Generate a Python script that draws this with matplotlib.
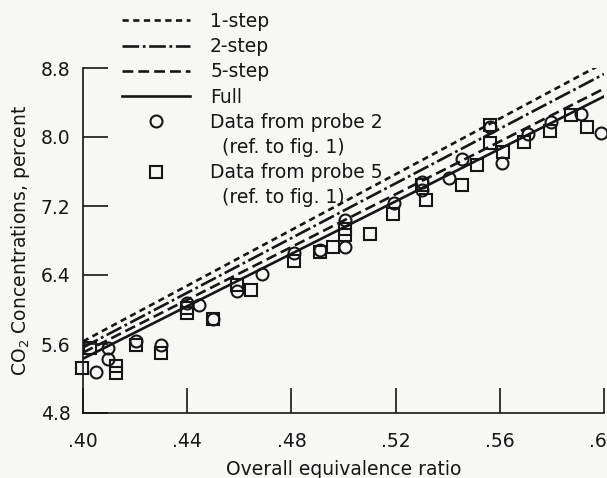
import matplotlib
matplotlib.use("Agg")
import matplotlib.pyplot as plt
from matplotlib.lines import Line2D

plt.rcParams['font.family'] = ['DejaVu Sans']
plt.rcParams['mathtext.fontset'] = 'dejavusans'
plt.rcParams['lines.scale_dashes'] = False

# ---- data ----
line_x = [0.40, 0.60]
one_step = [5.63, 8.86]
two_step = [5.56, 8.73]
five_step = [5.50, 8.56]
full_mech = [5.43, 8.47]

probe2_x = [0.4048, 0.4096, 0.4096, 0.4205, 0.4300, 0.4401, 0.4446, 0.4500,
            0.4592, 0.4686, 0.4811, 0.4909, 0.5004, 0.5004, 0.5195, 0.5303,
            0.5303, 0.5404, 0.5455, 0.5563, 0.5608, 0.5707, 0.5798, 0.5912,
            0.5989]
probe2_y = [5.28, 5.55, 5.43, 5.63, 5.59, 6.07, 6.05, 5.89,
            6.21, 6.41, 6.66, 6.69, 7.04, 6.72, 7.23, 7.48,
            7.39, 7.52, 7.75, 8.12, 7.70, 8.04, 8.17, 8.27,
            8.05]

probe5_x = [0.3995, 0.4027, 0.4128, 0.4128, 0.4205, 0.4300, 0.4401, 0.4401,
            0.4500, 0.4592, 0.4643, 0.4811, 0.4909, 0.4960, 0.5004, 0.5004,
            0.5100, 0.5189, 0.5303, 0.5316, 0.5455, 0.5512, 0.5563, 0.5563,
            0.5614, 0.5693, 0.5794, 0.5874, 0.5934]
probe5_y = [5.32, 5.55, 5.34, 5.26, 5.59, 5.49, 6.02, 5.96,
            5.89, 6.28, 6.23, 6.56, 6.67, 6.73, 6.93, 6.86,
            6.88, 7.11, 7.44, 7.27, 7.44, 7.68, 8.14, 7.93,
            7.83, 7.94, 8.07, 8.26, 8.12]

x_ticks = [0.40, 0.44, 0.48, 0.52, 0.56, 0.60]
x_tick_labels = ['.40', '.44', '.48', '.52', '.56', '.60']
y_ticks = [4.8, 5.6, 6.4, 7.2, 8.0, 8.8]
y_tick_labels = ['4.8', '5.6', '6.4', '7.2', '8.0', '8.8']

legend_labels = ['1-step', '2-step', '5-step', 'Full',
                 'Data from probe 2', '  (ref. to fig. 1)',
                 'Data from probe 5', '  (ref. to fig. 1)']

# ---- style ----
ink = '#161616'
bg = '#f7f7f6'
fs = 13.5
lw = 1.9

fig = plt.figure(figsize=(6.07, 4.78), dpi=100, facecolor=bg)
ax = fig.add_axes([83/607, 65/478, (604-83)/607, 345/478])
ax.set_facecolor(bg)

styles = {
    '1-step': (0, (4.5, 3.2)),
    '2-step': (0, (12.0, 2.6, 2.0, 2.6)),
    '5-step': (0, (7.8, 3.6)),
    'Full': '-',
}

h1, = ax.plot(line_x, one_step, color=ink, lw=lw, linestyle=styles['1-step'])
h2, = ax.plot(line_x, two_step, color=ink, lw=lw, linestyle=styles['2-step'])
h3, = ax.plot(line_x, five_step, color=ink, lw=lw, linestyle=styles['5-step'])
h4, = ax.plot(line_x, full_mech, color=ink, lw=lw, linestyle=styles['Full'])

ms = 8.6
mew = 1.5
h5, = ax.plot(probe2_x, probe2_y, linestyle='none', marker='o', ms=ms,
              mfc='none', mec=ink, mew=mew, clip_on=False)
h6, = ax.plot(probe5_x, probe5_y, linestyle='none', marker='s', ms=ms * 0.95,
              mfc='none', mec=ink, mew=mew, clip_on=False)

ax.set_xlim(0.40, 0.60)
ax.set_ylim(4.8, 8.8)
ax.set_xticks(x_ticks)
ax.set_xticklabels(x_tick_labels)
ax.set_yticks(y_ticks)
ax.set_yticklabels(y_tick_labels)

for s in ['top', 'right']:
    ax.spines[s].set_visible(False)
for s in ['left', 'bottom']:
    ax.spines[s].set_linewidth(1.2)
    ax.spines[s].set_color(ink)

ax.tick_params(axis='both', direction='in', length=18, width=1.2, color=ink,
               labelsize=fs, labelcolor=ink)
ax.tick_params(axis='x', pad=14)
ax.tick_params(axis='y', pad=9)

ax.set_xlabel('Overall equivalence ratio', fontsize=fs, color=ink, labelpad=6)
ax.set_ylabel('CO$_2$ Concentrations, percent', fontsize=fs, color=ink, labelpad=6)

blank = Line2D([], [], linestyle='none', marker=None)
handles = [h1, h2, h3, h4, h5, blank, h6, blank]
leg = fig.legend(handles, legend_labels, loc='upper left',
                 bbox_to_anchor=(122/607, 1 - 12/478), frameon=False,
                 fontsize=fs, handlelength=68/18.75, handletextpad=1.07,
                 labelspacing=0.33, borderpad=0, borderaxespad=0)
for t in leg.get_texts():
    t.set_color(ink)

fig.savefig('out.png', dpi=100, facecolor=bg)
